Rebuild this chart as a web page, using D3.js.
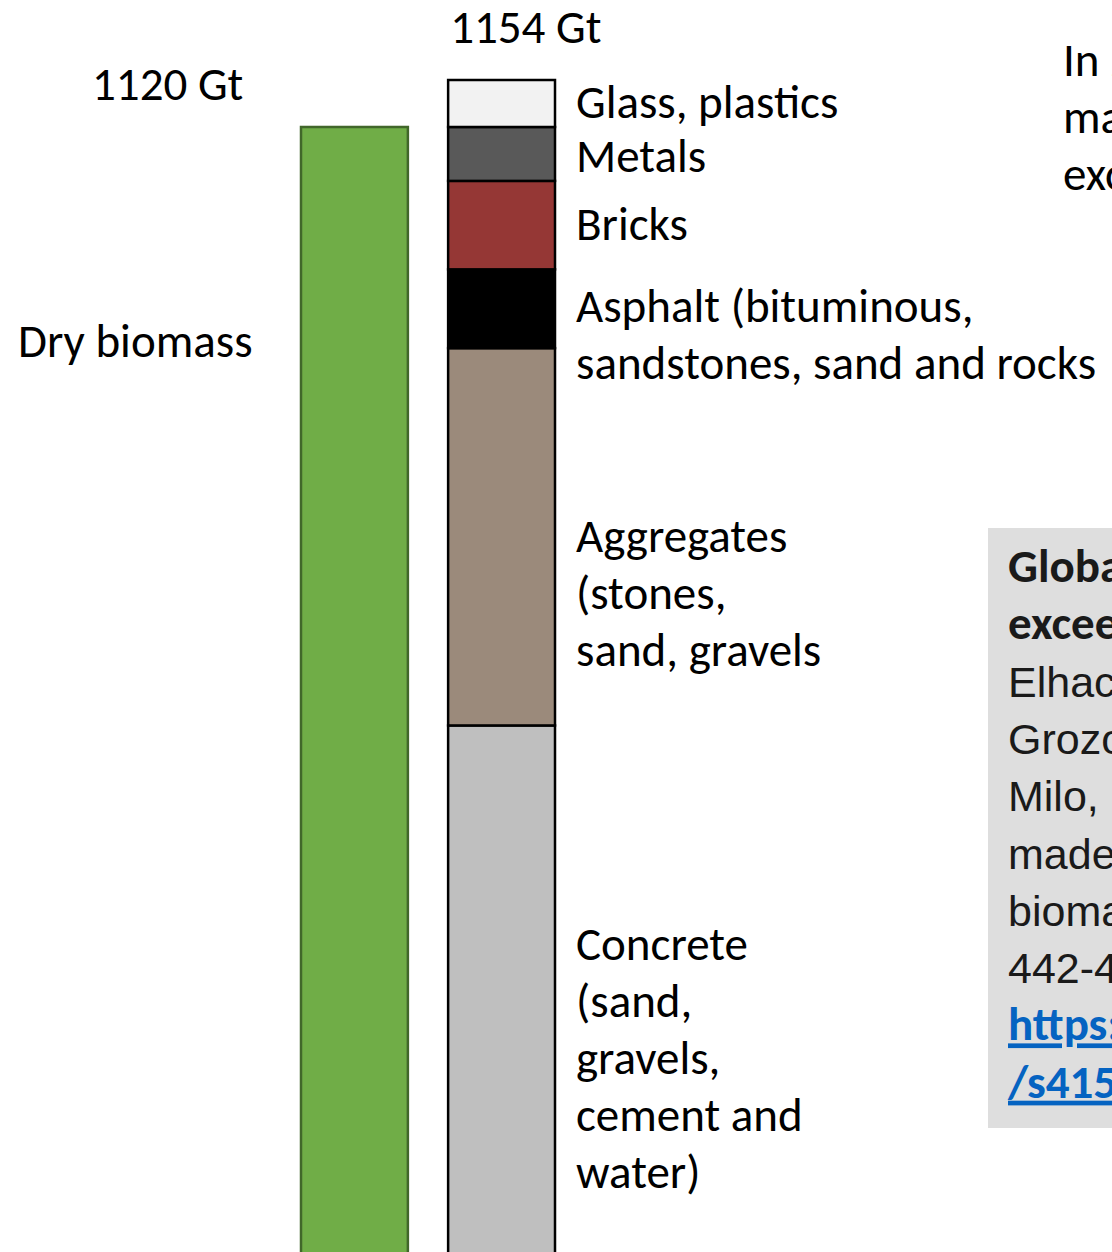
<!DOCTYPE html>
<html>
<head>
<meta charset="utf-8">
<script src="https://cdn.jsdelivr.net/npm/d3@7"></script>
<style>
  html, body { margin: 0; padding: 0; background: #fff; overflow: hidden; }
  svg { display: block; }
  .lbl { font-family: Carlito, "Open Sans", "Noto Sans", sans-serif; font-size: 47px; fill: #000; }
</style>
</head>
<body>
<svg id="chart" width="1112" height="1252"></svg>
<script>
// Dry biomass vs. anthropogenic mass, in gigatonnes (Gt)
const biomassTotal = 1120;

// Anthropogenic mass components, bottom to top (Gt)
const materials = ["Concrete", "Aggregates", "Asphalt", "Bricks", "Metals", "Glass, plastics"];
const materialMass = [687, 273, 57, 64, 39, 34];
const materialColors = ["#bfbfbf", "#9b8a7b", "#000000", "#953735", "#595959", "#f2f2f2"];

// Side labels for each component (one entry per text line)
const materialLabels = [
  ["Concrete", "(sand,", "gravels,", "cement and", "water)"],
  ["Aggregates", "(stones,", "sand, gravels"],
  ["Asphalt (bituminous,", "sandstones, sand and rocks"],
  ["Bricks"],
  ["Metals"],
  ["Glass, plastics"]
];
// Baseline of the first line of each label
const labelTop = [960, 552, 322, 240, 172, 118];

const anthroTotal = d3.sum(materialMass);

const svg = d3.select("#chart");

// Vertical scale: bars grow upward from a baseline below the visible frame
const y = d3.scaleLinear().domain([0, anthroTotal]).range([1675, 80]);

const x = d3.scaleBand().domain(["biomass", "anthro"]).range([300, 556]).paddingInner(0.26).paddingOuter(0);

// Biomass bar
svg.append("rect")
  .attr("x", x("biomass") + 1)
  .attr("y", y(biomassTotal))
  .attr("width", x.bandwidth() - 2)
  .attr("height", y(0) - y(biomassTotal))
  .attr("fill", "#70ad47")
  .attr("stroke", "#41672a")
  .attr("stroke-width", 2.5);

// Stacked anthropogenic bar
const stackData = [];
let acc = 0;
materials.forEach((m, i) => {
  stackData.push({ name: m, y0: acc, y1: acc + materialMass[i], color: materialColors[i], lines: materialLabels[i], top: labelTop[i] });
  acc += materialMass[i];
});

svg.append("g").selectAll("rect")
  .data(stackData)
  .join("rect")
  .attr("x", x("anthro") + 1)
  .attr("y", d => y(d.y1))
  .attr("width", x.bandwidth() - 2)
  .attr("height", d => y(d.y0) - y(d.y1))
  .attr("fill", d => d.color)
  .attr("stroke", "#000")
  .attr("stroke-width", 2.5);

// Totals above bars
svg.append("text").attr("class", "lbl")
  .attr("x", 92)
  .attr("y", y(biomassTotal) - 27)
  .text(biomassTotal + " Gt");
svg.append("text").attr("class", "lbl")
  .attr("x", x("anthro") + 3)
  .attr("y", y(anthroTotal) - 37)
  .text(anthroTotal + " Gt");

svg.append("text").attr("class", "lbl")
  .attr("x", 18).attr("y", 357)
  .text("Dry biomass");

// Component labels
const lineGap = 57;
const lg = svg.append("g");
stackData.forEach(d => {
  const t = lg.append("text").attr("class", "lbl").attr("x", 576).attr("y", d.top);
  d.lines.forEach((ln, j) => {
    t.append("tspan").attr("x", 576).attr("y", d.top + j * lineGap).text(ln);
  });
});

// Note at top right
const note = ["In  2020, human-", "made mass now", "exceeds all living biomass"];
const nt = svg.append("text").attr("class", "lbl");
note.forEach((ln, j) => nt.append("tspan").attr("x", 1063).attr("y", 76 + j * lineGap).text(ln));

// Reference box
svg.append("rect").attr("x", 988).attr("y", 528).attr("width", 200).attr("height", 600).attr("fill", "#dedede");
const ref = [
  { t: "Global human-made mass", s: "bold" },
  { t: "exceeds all living biomass", s: "bold" },
  { t: "Elhacham, E., Ben-Uri, L.,", s: "body" },
  { t: "Grozovski, J., Bar-On, Y. M., &", s: "body" },
  { t: "Milo, R. (2020). Global human-", s: "body" },
  { t: "made mass exceeds all living", s: "body" },
  { t: "biomass. Nature, 588(7838),", s: "body" },
  { t: "442-444.", s: "body" },
  { t: "https://doi.org/10.1038", s: "link" },
  { t: "/s41586-020-3010-5", s: "link" }
];
ref.forEach((r, j) => {
  const t = svg.append("text")
    .attr("x", 1008)
    .attr("y", 582 + j * 57.3)
    .text(r.t);
  if (r.s === "body") {
    t.attr("font-family", "'Liberation Sans', Arial, sans-serif").attr("font-size", 43).attr("fill", "#1a1a1a");
  } else {
    t.attr("font-family", "Carlito, 'Open Sans', sans-serif").attr("font-size", 47).attr("font-weight", "bold")
      .attr("fill", r.s === "link" ? "#0563c1" : "#1a1a1a")
      .attr("text-decoration", r.s === "link" ? "underline" : null);
  }
});
</script>
</body>
</html>
